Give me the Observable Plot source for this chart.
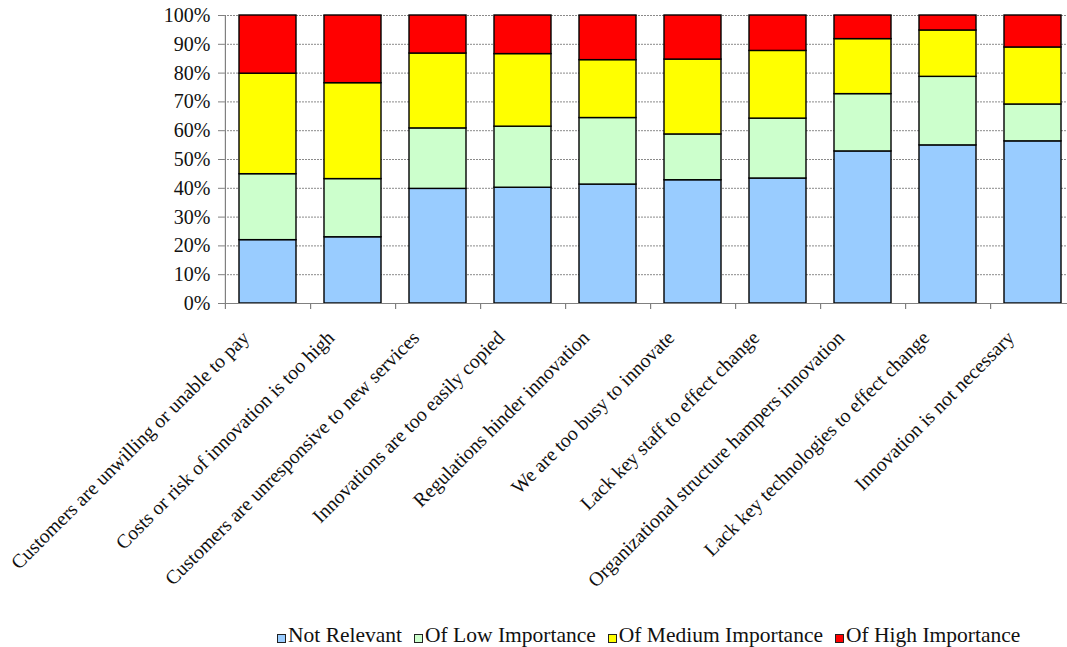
<!DOCTYPE html>
<html><head><meta charset="utf-8">
<script src="https://cdn.jsdelivr.net/npm/d3@7"></script>
<script src="https://cdn.jsdelivr.net/npm/@observablehq/plot@0.6"></script>
<style>
html,body{margin:0;padding:0;background:#fff;overflow:hidden;width:1067px;height:647px;position:relative}
#chart{width:1067px;overflow:hidden}
#chart svg{display:block}
.legend{position:absolute;left:277px;top:623px;display:flex;align-items:center;font-family:"Liberation Serif","Times New Roman",Times,"DejaVu Serif",serif;font-size:21.5px;color:#111;white-space:nowrap}
.item{display:flex;align-items:center;margin-right:12px}
.sw{display:inline-block;box-sizing:border-box;width:9px;height:9px;border:1px solid #222;margin-right:2px;position:relative;top:2.5px}
</style></head><body>
<div id="chart"></div>
<div class="legend" id="legend"></div>
<script>
const categories = [
  "Customers are unwilling or unable to pay",
  "Costs or risk of innovation is too high",
  "Customers are unresponsive to new services",
  "Innovations are too easily copied",
  "Regulations hinder innovation",
  "We are too busy to innovate",
  "Lack key staff to effect change",
  "Organizational structure hampers innovation",
  "Lack key technologies to effect change",
  "Innovation is not necessary"
];
const series = ["Not Relevant", "Of Low Importance", "Of Medium Importance", "Of High Importance"];
const notRelevant      = [22.0, 23.0, 39.8, 40.2, 41.3, 42.8, 43.4, 52.8, 54.9, 56.3];
const lowImportance    = [22.9, 20.2, 21.0, 21.2, 23.1, 15.9, 20.8, 19.9, 23.8, 12.8];
const mediumImportance = [34.9, 33.3, 26.0, 25.2, 20.1, 26.0, 23.5, 19.1, 16.1, 19.8];
const highImportance   = [20.2, 23.5, 13.2, 13.4, 15.5, 15.3, 12.3, 8.2, 5.2, 11.1];
const colors = ["#99CCFF", "#CCFFCC", "#FFFF00", "#FF0000"];
const yTicks = [0, 10, 20, 30, 40, 50, 60, 70, 80, 90, 100];

const valuesBySeries = [notRelevant, lowImportance, mediumImportance, highImportance];
const data = [];
series.forEach((s, si) => categories.forEach((c, ci) => data.push({category: c, series: s, value: valuesBySeries[si][ci]})));

const width = 1067, marginLeft = 224, marginRight = -9;
const step = (width - marginLeft - marginRight) / categories.length;

const chart = Plot.plot({
  width, height: 618,
  marginLeft, marginRight, marginTop: 15, marginBottom: 315,
  style: {fontFamily: "'Liberation Serif', 'Times New Roman', Times, 'DejaVu Serif', serif", fontSize: "20px", color: "#111", background: "#fff"},
  x: {domain: categories, paddingInner: 0.33, paddingOuter: 0.165, label: null},
  y: {domain: [0, 100], label: null},
  color: {domain: series, range: colors},
  marks: [
    Plot.gridY(yTicks, {stroke: "#8a8a8a", strokeOpacity: 1, strokeDasharray: "2,1"}),
    Plot.barY(data, {x: "category", y: "value", fill: "series", stroke: "#000", strokeWidth: 1.4}),
    Plot.ruleY([0], {stroke: "#808080", strokeWidth: 1.2}),
    Plot.ruleX([categories[0]], {x: d => d, dx: -step / 2, stroke: "#808080", strokeWidth: 1.2, insetBottom: -6}),
    Plot.ruleX(categories, {x: d => d, dx: step / 2, y1: 0, y2: 0, insetBottom: -6, stroke: "#808080", strokeWidth: 1.2}),
    Plot.axisY(yTicks, {tickFormat: d => d + "%", tickSize: 6, tickPadding: 8, fontSize: 20, stroke: "#808080", label: null}),
    Plot.axisX({tickRotate: -45, tickSize: 0, tickPadding: 12, dx: -22, dy: 19, fontSize: 19.8, label: null})
  ]
});
document.getElementById("chart").appendChild(chart);

const legend = document.getElementById("legend");
series.forEach((s, i) => {
  const it = document.createElement("span");
  it.className = "item";
  const sw = document.createElement("span");
  sw.className = "sw";
  sw.style.background = colors[i];
  it.appendChild(sw);
  it.appendChild(document.createTextNode(s));
  legend.appendChild(it);
});
</script>
</body></html>
